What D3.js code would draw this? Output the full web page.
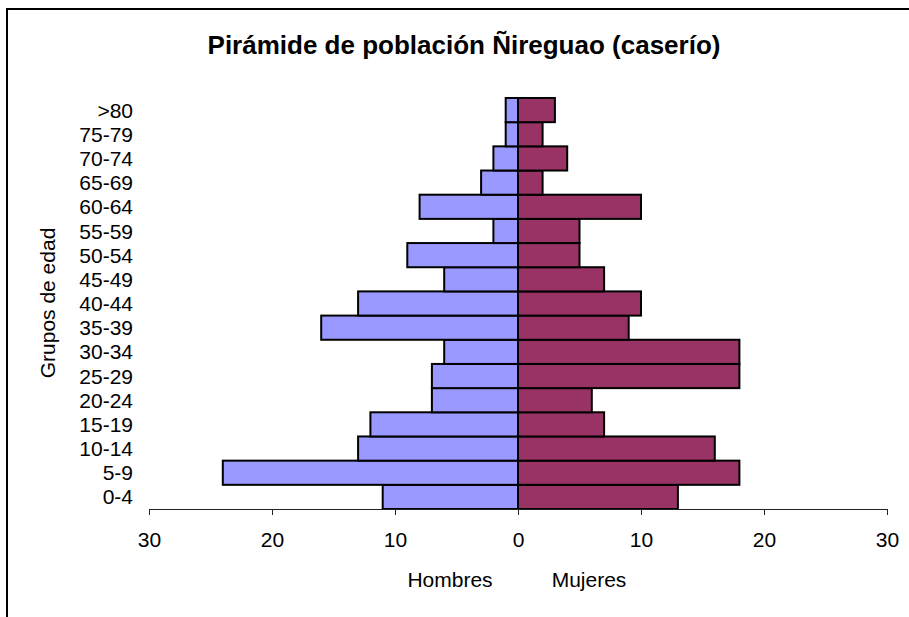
<!DOCTYPE html>
<html>
<head>
<meta charset="utf-8">
<script src="https://cdn.jsdelivr.net/npm/d3@7"></script>
<style>
  body { margin: 0; background: #fff; }
  svg { display: block; font-family: "Liberation Sans", Arial, sans-serif; }
</style>
</head>
<body>
<div id="chart"></div>
<script>
// Age groups, bottom to top
const groups = ["0-4", "5-9", "10-14", "15-19", "20-24", "25-29", "30-34", "35-39", "40-44",
    "45-49", "50-54", "55-59", "60-64", "65-69", "70-74", "75-79", ">80"];
const hombres = [11, 24, 13, 12, 7, 7, 6, 16, 13, 6, 9, 2, 8, 3, 2, 1, 1];
const mujeres = [13, 18, 16, 7, 6, 18, 18, 9, 10, 7, 5, 5, 10, 2, 4, 2, 3];
const xTicks = [-30, -20, -10, 0, 10, 20, 30];

const W = 909, H = 617;
const plot = { left: 149, right: 887, top: 98, bottom: 509 };

const svg = d3.select("#chart").append("svg")
    .attr("width", W)
    .attr("height", H);

// outer frame (only top and left visible)
svg.append("path")
    .attr("d", `M7,${H + 5} V9 H${W + 5}`)
    .attr("fill", "none")
    .attr("stroke", "#000")
    .attr("stroke-width", 2);

const x = d3.scaleLinear().domain([-30, 30]).range([plot.left, plot.right]);
const y = d3.scaleBand().domain(groups).range([plot.bottom, plot.top]).padding(0);

// Title
svg.append("text")
    .attr("x", 464).attr("y", 54)
    .attr("text-anchor", "middle")
    .style("font-size", "26px")
    .style("font-weight", "bold")
    .text("Pirámide de población Ñireguao (caserío)");

// Bars
const rows = groups.map((g, i) => ({ g, h: hombres[i], m: mujeres[i] }));

svg.selectAll(".bar-h")
    .data(rows)
    .enter().append("rect")
    .attr("x", d => x(-d.h))
    .attr("y", d => y(d.g))
    .attr("width", d => x(0) - x(-d.h))
    .attr("height", y.bandwidth())
    .attr("fill", "#9999FF")
    .attr("stroke", "#000")
    .attr("stroke-width", 2);

svg.selectAll(".bar-m")
    .data(rows)
    .enter().append("rect")
    .attr("x", x(0))
    .attr("y", d => y(d.g))
    .attr("width", d => x(d.m) - x(0))
    .attr("height", y.bandwidth())
    .attr("fill", "#993366")
    .attr("stroke", "#000")
    .attr("stroke-width", 2);

// X axis
const xAxis = svg.append("g")
    .attr("transform", `translate(0,${plot.bottom})`)
    .call(d3.axisBottom(x).tickValues(xTicks).tickFormat(d => Math.abs(d)).tickSize(6).tickSizeOuter(0).tickPadding(17));
xAxis.selectAll("path, line").attr("stroke", "#222");
xAxis.selectAll("text")
    .attr("fill", "#000")
    .style("font-size", "21px")
    .style("font-family", "'Liberation Sans', Arial, sans-serif");

// Category labels (no axis line)
svg.append("g")
    .selectAll("text")
    .data(groups)
    .enter().append("text")
    .attr("x", 133)
    .attr("y", d => y(d) + y.bandwidth() / 2)
    .attr("dy", "0.36em")
    .attr("text-anchor", "end")
    .style("font-size", "21px")
    .text(d => d);

// Axis titles
svg.append("text")
    .attr("transform", "translate(55,303) rotate(-90)")
    .attr("text-anchor", "middle")
    .style("font-size", "21px")
    .text("Grupos de edad");

svg.append("text")
    .attr("x", 450).attr("y", 587)
    .attr("text-anchor", "middle")
    .style("font-size", "21px")
    .text("Hombres");

svg.append("text")
    .attr("x", 589).attr("y", 587)
    .attr("text-anchor", "middle")
    .style("font-size", "21px")
    .text("Mujeres");
</script>
</body>
</html>
